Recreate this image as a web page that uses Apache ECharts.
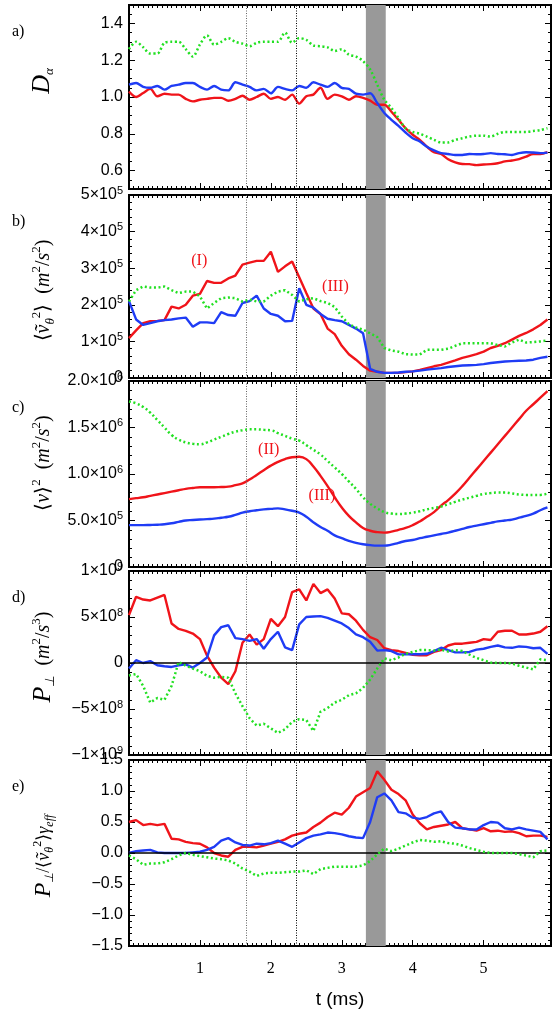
<!DOCTYPE html>
<html><head><meta charset="utf-8">
<script src="https://cdn.jsdelivr.net/npm/echarts@6/dist/echarts.min.js"></script>
<style>html,body{margin:0;padding:0;background:#fff}#c{width:552px;height:1012px}</style>
</head><body><div id="c"></div><script>
// ---------- DATA ----------
const time = [0,0.1,0.2,0.3,0.4,0.5,0.6,0.7,0.8,0.9,1,1.1,1.2,1.3,1.4,1.5,1.6,1.7,1.8,1.9,2,2.1,2.2,2.3,2.4,2.5,2.6,2.7,2.8,2.9,3,3.1,3.2,3.3,3.4,3.5,3.6,3.7,3.8,3.9,4,4.1,4.2,4.3,4.4,4.5,4.6,4.7,4.8,4.9,5,5.1,5.2,5.3,5.4,5.5,5.6,5.7,5.8,5.9];

const aGreen = [1.26,1.30,1.27,1.236,1.236,1.295,1.30,1.30,1.26,1.22,
 1.285,1.335,1.285,1.30,1.32,1.30,1.29,1.276,1.295,1.30,
 1.30,1.30,1.35,1.295,1.32,1.31,1.28,1.276,1.27,1.25,
 1.26,1.23,1.22,1.195,1.15,1.067,0.985,0.94,0.885,0.83,
 0.81,0.80,0.785,0.767,0.753,0.753,0.767,0.776,0.785,0.79,
 0.79,0.785,0.80,0.81,0.81,0.81,0.81,0.815,0.82,0.83];
const aBlue = [1.067,1.076,1.055,1.05,1.06,1.04,1.06,1.067,1.076,1.076,
 1.055,1.04,1.06,1.04,1.036,1.08,1.067,1.055,1.036,1.044,
 1.02,1.055,1.044,1.036,1.06,1.05,1.08,1.067,1.055,1.076,
 1.05,1.044,1.018,1.013,1.02,0.967,0.913,0.876,0.843,0.807,
 0.776,0.758,0.73,0.71,0.695,0.69,0.685,0.685,0.69,0.689,
 0.69,0.695,0.69,0.689,0.685,0.695,0.70,0.698,0.695,0.698];
const aRed = [1.03,1.0,1.022,1.044,1.004,1.018,1.013,1.013,0.99,0.976,
 0.985,0.99,0.995,0.995,0.98,0.99,1.007,0.985,1.0,1.018,
 0.99,1.0,0.985,1.013,0.964,1.004,1.013,1.05,0.99,1.013,
 1.004,0.985,1.004,0.995,0.98,0.958,0.958,0.92,0.876,0.83,
 0.795,0.767,0.73,0.70,0.69,0.662,0.645,0.636,0.635,0.63,
 0.633,0.635,0.64,0.65,0.655,0.662,0.676,0.69,0.69,0.70];

// panel b, units of 1e5 m^2/s^2
const bRed = [1.09,1.3,1.5,1.55,1.56,1.58,1.95,1.9,2.0,2.25,
 2.3,2.65,2.6,2.6,2.72,2.8,3.1,3.15,3.2,3.2,
 3.45,2.9,3.05,3.18,2.75,2.32,1.9,1.75,1.35,1.2,
 0.88,0.65,0.5,0.33,0.2,0.17,0.14,0.14,0.14,0.16,
 0.18,0.22,0.27,0.32,0.36,0.42,0.48,0.55,0.6,0.65,
 0.72,0.82,0.88,0.95,1.05,1.15,1.23,1.33,1.45,1.6];
const bBlue = [2.1,1.6,1.45,1.5,1.55,1.58,1.6,1.63,1.65,1.4,
 1.52,1.52,1.5,1.8,1.72,1.7,2.05,2.1,2.25,1.9,
 1.75,1.7,1.55,1.56,2.45,2.0,1.92,1.75,1.62,1.58,
 1.55,1.45,1.35,1.22,0.25,0.17,0.14,0.14,0.15,0.17,
 0.18,0.2,0.23,0.25,0.27,0.3,0.32,0.34,0.35,0.36,
 0.38,0.41,0.43,0.45,0.46,0.47,0.48,0.5,0.55,0.58];
const bGreen = [2.09,2.4,2.5,2.47,2.47,2.5,2.4,2.32,2.36,2.36,
 2.23,1.9,2.05,2.18,2.2,2.18,2.09,2.14,2.09,2.09,
 2.25,2.36,2.4,2.27,2.09,2.15,2.18,2.1,2.05,1.94,
 1.68,1.47,1.38,1.32,1.22,1.12,0.82,0.75,0.72,0.65,
 0.64,0.64,0.77,0.77,0.77,0.8,0.88,0.95,0.95,0.95,
 0.95,0.95,0.9,0.86,0.97,1.05,0.97,0.98,1.0,1.03];

// panel c, units of 1e6 m^2/s^2
const cGreen = [1.78,1.76,1.72,1.66,1.58,1.50,1.42,1.37,1.34,1.325,
 1.32,1.34,1.37,1.40,1.43,1.455,1.47,1.48,1.48,1.475,
 1.47,1.44,1.41,1.38,1.36,1.31,1.26,1.21,1.14,1.07,
 1.0,0.92,0.84,0.75,0.68,0.63,0.59,0.575,0.57,0.575,
 0.585,0.60,0.62,0.635,0.65,0.675,0.70,0.725,0.745,0.765,
 0.785,0.795,0.80,0.80,0.79,0.78,0.775,0.775,0.775,0.79];
const cRed = [0.73,0.74,0.75,0.765,0.78,0.795,0.81,0.825,0.84,0.85,
 0.857,0.857,0.857,0.86,0.864,0.88,0.90,0.94,0.99,1.04,
 1.09,1.13,1.16,1.18,1.185,1.16,1.08,0.98,0.87,0.75,
 0.64,0.55,0.48,0.42,0.39,0.375,0.37,0.38,0.40,0.42,
 0.45,0.49,0.54,0.59,0.66,0.72,0.79,0.87,0.96,1.05,
 1.14,1.23,1.32,1.41,1.50,1.59,1.68,1.75,1.82,1.89];
const cBlue = [0.45,0.45,0.45,0.452,0.455,0.46,0.47,0.485,0.50,0.505,
 0.51,0.515,0.52,0.53,0.54,0.56,0.585,0.60,0.61,0.62,
 0.625,0.63,0.62,0.605,0.585,0.54,0.48,0.43,0.39,0.34,
 0.31,0.28,0.26,0.245,0.235,0.23,0.23,0.24,0.26,0.28,
 0.29,0.31,0.325,0.34,0.355,0.37,0.39,0.41,0.43,0.445,
 0.46,0.475,0.49,0.50,0.51,0.53,0.55,0.575,0.61,0.64];

// panel d, units of 1e8 m^2/s^3
const dRed = [5.2,7.2,6.9,6.8,7.1,7.4,4.3,3.7,3.5,3.2,
 2.6,0.8,-0.5,-1.6,-2.3,-0.9,2.2,3.1,2.0,2.6,
 4.8,4.0,5.0,7.7,8.0,6.8,8.6,7.6,8.0,7.0,
 5.4,5.3,4.6,3.6,2.8,2.5,1.6,1.4,1.3,1.1,
 0.9,0.85,0.85,1.2,1.4,1.9,2.1,2.1,2.2,2.3,
 2.6,2.5,3.4,3.5,3.5,3.1,3.1,3.2,3.4,4.0];
const dBlue = [-0.6,0.3,0.0,0.2,-0.25,-0.35,-0.43,-0.25,-0.15,-0.5,
 0.0,0.6,3.0,3.9,4.1,2.7,2.6,2.4,2.6,1.55,
 2.6,3.4,1.7,1.4,4.2,5.0,5.05,5.1,4.9,4.6,
 4.3,3.8,3.1,2.8,2.3,1.35,1.4,1.3,0.94,0.94,
 0.95,0.95,1.0,1.3,1.66,1.4,1.15,1.15,1.2,1.45,
 1.55,1.75,1.9,1.7,1.65,1.8,1.75,1.6,1.65,1.0];
const dGreen = [-1.35,-1.2,-2.5,-4.3,-3.8,-4.0,-2.5,0.1,-0.3,-0.6,
 -0.9,-1.4,-1.6,-1.5,-1.6,-3.3,-4.7,-6.0,-6.8,-6.6,
 -7.1,-7.6,-7.2,-6.4,-6.1,-6.2,-7.4,-5.3,-4.9,-4.3,
 -4.0,-3.5,-3.3,-2.7,-1.8,-0.6,0.5,0.3,0.6,1.0,
 1.2,1.4,1.4,1.35,1.45,1.25,1.4,1.3,0.9,0.55,
 0.3,0.05,0.0,0.0,-0.05,-0.3,-0.5,-0.7,0.4,0.3];

// panel e
const eRed = [0.5,0.53,0.45,0.47,0.45,0.47,0.23,0.22,0.18,0.16,
 0.15,0.09,0.0,-0.04,-0.06,0.05,0.1,0.1,0.09,0.12,
 0.15,0.18,0.22,0.28,0.31,0.33,0.42,0.49,0.58,0.65,
 0.62,0.73,0.91,0.98,1.05,1.32,1.18,1.02,0.95,0.85,
 0.62,0.48,0.38,0.42,0.44,0.46,0.5,0.4,0.38,0.36,
 0.4,0.35,0.36,0.34,0.35,0.32,0.27,0.28,0.28,0.26];
const eBlue = [0,0.03,0.04,0.05,0.01,0.0,0.0,0.0,0.0,0.01,
 0.02,0.05,0.1,0.2,0.24,0.17,0.13,0.12,0.15,0.14,
 0.16,0.2,0.15,0.1,0.17,0.24,0.28,0.3,0.33,0.32,
 0.3,0.27,0.25,0.24,0.5,0.9,0.96,0.85,0.66,0.64,
 0.57,0.55,0.58,0.64,0.67,0.5,0.41,0.4,0.38,0.38,
 0.45,0.5,0.49,0.4,0.38,0.41,0.38,0.36,0.34,0.22];
const eGreen = [-0.04,-0.1,-0.19,-0.17,-0.17,-0.15,-0.1,-0.04,0.0,-0.03,
 -0.05,-0.07,-0.09,-0.1,-0.12,-0.17,-0.25,-0.3,-0.37,-0.33,
 -0.32,-0.32,-0.31,-0.3,-0.3,-0.28,-0.34,-0.26,-0.24,-0.22,
 -0.22,-0.22,-0.22,-0.2,-0.13,-0.02,0.07,0.03,0.07,0.12,
 0.17,0.21,0.2,0.18,0.19,0.16,0.15,0.12,0.08,0.05,
 0.02,0.0,0.0,0.0,0.0,-0.02,-0.04,-0.07,0.03,0.04];

// ticks and tick labels
const xTickVals = [0,1,2,3,4,5];
const xLabelVals = [1,2,3,4,5];
const xLabelText = ['1','2','3','4','5'];
const aTickVals = [0.6,0.8,1.0,1.2,1.4];
const aTickText = ['0.6','0.8','1.0','1.2','1.4'];
const bTickVals = [0,1,2,3,4,5];
const bTickText = ['0','{m|1×10}{e|5}','{m|2×10}{e|5}','{m|3×10}{e|5}','{m|4×10}{e|5}','{m|5×10}{e|5}'];
const cTickVals = [0,0.5,1,1.5,2];
const cTickText = ['0','{m|5.0×10}{e|5}','{m|1.0×10}{e|6}','{m|1.5×10}{e|6}','{m|2.0×10}{e|6}'];
const dTickVals = [-10,-5,0,5,10];
const dTickText = ['{m|−1×10}{e|9}','{m|−5×10}{e|8}','0','{m|5×10}{e|8}','{m|1×10}{e|9}'];
const eTickVals = [-1.5,-1,-0.5,0,0.5,1,1.5];
const eTickText = ['−1.5','−1.0','−0.5','0.0','0.5','1.0','1.5'];

// time markers
const markT1 = 1.65, markT2 = 2.36;
const bandT = [3.34, 3.62];
const annotations = [
  {panel:1, t:0.99, v:3.19, text:'(I)'},
  {panel:1, t:2.91, v:2.5, text:'(III)'},
  {panel:2, t:1.97, v:1.26, text:'(II)'},
  {panel:2, t:2.72, v:0.77, text:'(III)'}
];

// ---------- STYLE / LAYOUT ----------
const RED = '#f0141a', BLUE = '#1f3cf5', GREEN = '#22e022';
const GL = 129, GW = 422, XMAX = 5.95;
const panels = [
  {top:5, height:184, min:0.5, max:1.5, ticks:aTickVals, text:aTickText, minor:0.05,
   name:'{N|D}{sub|α}', F:20, gap:73, pad:[0,0,0,32], smooth:0.3,
   red:aRed, blue:aBlue, green:aGreen, label:'a)'},
  {top:195, height:183, min:0, max:5, ticks:bTickVals, text:bTickText, minor:0.2,
   name:'{r|⟨}{n|ṽ}{sub|θ}{sup|2}{r|⟩  (}{n|m}{sup|2}{r|/}{n|s}{sup|2}{r|)}', F:20, gap:72, pad:[0,8,0,0], smooth:false,
   red:bRed, blue:bBlue, green:bGreen, label:'b)'},
  {top:381, height:186, min:0, max:2, ticks:cTickVals, text:cTickText, minor:0.1,
   name:'{r|⟨}{n|v}{r|⟩}{sup|2}{r|  (}{n|m}{sup|2}{r|/}{n|s}{sup|2}{r|)}', F:20, gap:72, pad:[0,0,0,22], smooth:true,
   red:cRed, blue:cBlue, green:cGreen, label:'c)'},
  {top:571, height:184, min:-10, max:10, ticks:dTickVals, text:dTickText, minor:1,
   name:'{N|P}{sub|⊥}{r|  (}{n|m}{sup|2}{r|/}{n|s}{sup|3}{r|)}', F:20, gap:72, pad:[0,0,0,12], smooth:false, zero:true,
   red:dRed, blue:dBlue, green:dGreen, label:'d)'},
  {top:760, height:186, min:-1.5, max:1.5, ticks:eTickVals, text:eTickText, minor:0.1,
   name:'{N|P}{sub|⊥}{r|/⟨}{n|ṽ}{sub|θ}{sup|2}{r|⟩}{n|γ}{sub|eff}', F:18, gap:73, pad:[0,6,0,0], smooth:false, zero:true,
   red:eRed, blue:eBlue, green:eGreen, label:'e)'}
];

function nameRich(F){
  const S = Math.round(F*0.65), LH = Math.round(F*1.35);
  return {
    n:{fontFamily:'Liberation Serif', fontStyle:'italic', fontSize:F, lineHeight:LH, color:'#000'},
    r:{fontFamily:'Liberation Serif', fontSize:F, lineHeight:LH, color:'#000'},
    N:{fontFamily:'Liberation Serif', fontStyle:'italic', fontSize:F+6, lineHeight:LH, color:'#000'},
    sup:{fontFamily:'Liberation Serif', fontSize:S, lineHeight:S, verticalAlign:'top', color:'#000'},
    sub:{fontFamily:'Liberation Serif', fontStyle:'italic', fontSize:S, lineHeight:S, verticalAlign:'bottom', color:'#000'}
  };
}
const tickLine = {color:'#000', width:1};
function lookup(vals, text){
  return v => { const k = vals.findIndex(x => Math.abs(x - v) < 1e-9); return k < 0 ? '' : text[k]; };
}

const grid = [], xAxis = [], yAxis = [], series = [], graphic = [];
panels.forEach((p, i) => {
  grid.push({left:GL, width:GW, top:p.top, height:p.height, show:true, borderColor:'#000', borderWidth:2, backgroundColor:'transparent'});
  const last = i === panels.length - 1;
  const xb = {type:'value', gridIndex:i, min:0, max:XMAX, splitLine:{show:false}, axisLine:{show:false, onZero:false}, axisLabel:{show:false}};
  xAxis.push(Object.assign({}, xb, {position:'bottom',
    axisTick:{show:true, inside:true, length:6, lineStyle:tickLine, customValues:xTickVals},
    axisLabel: last ? {show:true, customValues:xLabelVals, formatter:lookup(xLabelVals, xLabelText),
       fontFamily:'Liberation Serif', fontSize:16, color:'#000', margin:15} : {show:false},
    name: last ? 't (ms)' : '', nameLocation:'middle', nameGap:44,
    nameTextStyle:{fontFamily:'Liberation Sans', fontSize:19, color:'#000'}}));
  xAxis.push(Object.assign({}, xb, {position:'bottom', interval:1/15, axisTick:{show:true, inside:true, length:3, lineStyle:tickLine}}));
  xAxis.push(Object.assign({}, xb, {position:'top', axisTick:{show:true, inside:true, length:6, lineStyle:tickLine, customValues:xTickVals}}));
  xAxis.push(Object.assign({}, xb, {position:'top', interval:1/15, axisTick:{show:true, inside:true, length:3, lineStyle:tickLine}}));

  const yb = {type:'value', gridIndex:i, min:p.min, max:p.max, splitLine:{show:false}, axisLine:{show:false, onZero:false}, axisLabel:{show:false}};
  yAxis.push(Object.assign({}, yb, {position:'left',
    axisTick:{show:true, inside:true, length:6, lineStyle:tickLine, customValues:p.ticks},
    axisLabel:{show:true, customValues:p.ticks, formatter:lookup(p.ticks, p.text), fontFamily:'Liberation Sans', fontSize:16, color:'#000', margin:6,
      rich:{m:{fontFamily:'Liberation Sans', fontSize:16, lineHeight:20, color:'#000'}, e:{fontFamily:'Liberation Sans', fontSize:11, lineHeight:11, verticalAlign:'top', color:'#000'}}},
    name:p.name, nameLocation:'middle', nameGap:p.gap,
    nameTextStyle:{rich:nameRich(p.F), padding:p.pad}}));
  yAxis.push(Object.assign({}, yb, {position:'left', interval:p.minor, axisTick:{show:true, inside:true, length:3, lineStyle:tickLine}}));
  yAxis.push(Object.assign({}, yb, {position:'right', axisTick:{show:true, inside:true, length:6, lineStyle:tickLine, customValues:p.ticks}}));
  yAxis.push(Object.assign({}, yb, {position:'right', interval:p.minor, axisTick:{show:true, inside:true, length:3, lineStyle:tickLine}}));

  const xi = i*4, yi = i*4;
  const toPts = arr => time.map((t, k) => [t, arr[k]]);
  const mlData = [
    {xAxis:markT1, lineStyle:{color:'#666', type:[1,1.5], width:1}},
    {xAxis:markT2, lineStyle:{color:'#000', type:[1,1.5], width:1}}
  ];
  if (p.zero) mlData.push({yAxis:0, lineStyle:{color:'#000', type:'solid', width:1.5}});
  const annos = annotations.filter(a => a.panel === i);
  series.push({type:'line', xAxisIndex:xi, yAxisIndex:yi, data:toPts(p.red), symbol:'none', smooth:p.smooth,
    lineStyle:{color:RED, width:2.4}, z:3,
    markArea:{silent:true, itemStyle:{color:'#999999', opacity:1}, data:[[{xAxis:bandT[0]},{xAxis:bandT[1]}]]},
    markLine:{silent:true, symbol:['none','none'], label:{show:false}, animation:false, data:mlData},
    markPoint: annos.length ? {silent:true, symbol:'rect', symbolSize:1, itemStyle:{color:'rgba(0,0,0,0)'},
      label:{show:true, position:'inside', color:RED, fontFamily:'Liberation Serif', fontSize:16, formatter:d => d.name},
      data:annos.map(a => ({coord:[a.t, a.v], name:a.text}))} : undefined
  });
  series.push({type:'line', xAxisIndex:xi, yAxisIndex:yi, data:toPts(p.blue), symbol:'none', smooth:p.smooth,
    lineStyle:{color:BLUE, width:2.4}, z:4});
  series.push({type:'line', xAxisIndex:xi, yAxisIndex:yi, data:toPts(p.green), symbol:'none', smooth:p.smooth,
    lineStyle:{color:GREEN, width:2.5, type:[2,2.6]}, z:5});

  graphic.push({type:'text', left:12, top:p.top + 19, style:{text:p.label, font:'16px "Liberation Serif"', fill:'#000'}});
});

const chart = echarts.init(document.getElementById('c'), null, {renderer:'canvas'});
chart.setOption({animation:false, backgroundColor:'#fff', grid, xAxis, yAxis, series, graphic});
</script></body></html>
